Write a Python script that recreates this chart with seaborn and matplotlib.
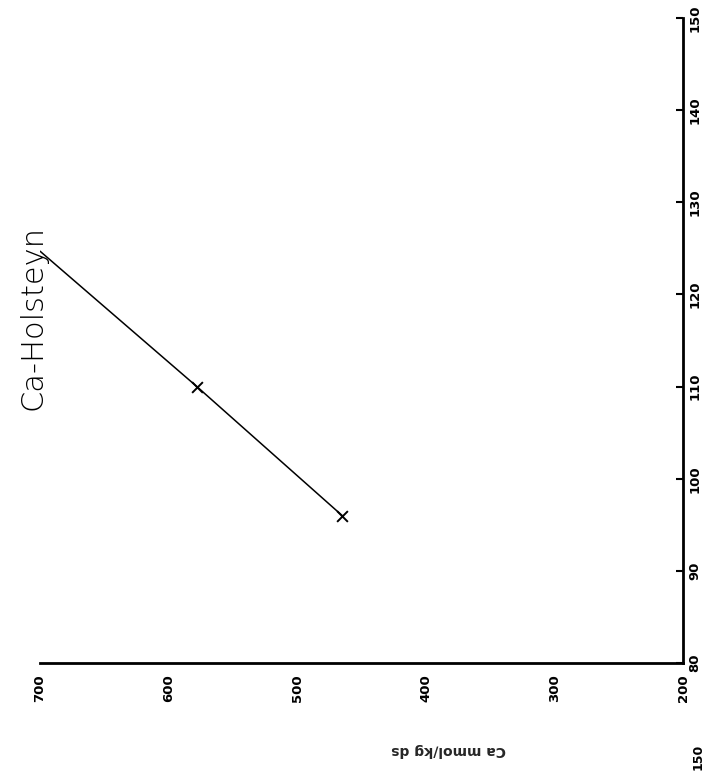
import matplotlib
matplotlib.use("Agg")
import matplotlib.pyplot as plt
import seaborn as sns
import pandas as pd

# Data (chart is shown rotated 90 degrees counter-clockwise)
ca_points = [465, 578]          # Ca mmol/kg ds
x_points = [96, 110]            # horizontal (original) axis values
ca_line = [465, 578, 700]
x_line = [96, 110, 124.7]
title = "Ca-Holsteyn"
ylabel_text = "Ca mmol/kg ds"
ca_ticks = [700, 600, 500, 400, 300, 200]
x_ticks = [80, 90, 100, 110, 120, 130, 140, 150]

sns.set_theme(style="white")
plt.rcParams['font.family'] = ['DejaVu Sans']

fig = plt.figure(figsize=(7.07, 7.71), dpi=100)
ax = fig.add_axes([0.0566, 0.140, 0.9095, 0.8366])

df_line = pd.DataFrame({"ca": ca_line, "x": x_line})
df_pts = pd.DataFrame({"ca": ca_points, "x": x_points})
sns.lineplot(data=df_line, x="ca", y="x", sort=False, estimator=None,
             color="black", linewidth=1.1, ax=ax)
sns.scatterplot(data=df_pts, x="ca", y="x", marker="x", color="black",
                s=60, linewidth=1.4, ax=ax)

ax.set_xlim(700, 200)
ax.set_ylim(80, 150)
ax.set_xticks(ca_ticks)
ax.set_yticks(x_ticks)
ax.yaxis.tick_right()
for s in ["top", "left"]:
    ax.spines[s].set_visible(False)
for s in ["bottom", "right"]:
    ax.spines[s].set_color("black")
    ax.spines[s].set_linewidth(2.0)
ax.tick_params(axis="both", direction="in", length=5, width=1.5,
               colors="black", labelsize=9.5)
ax.tick_params(axis="x", pad=8)
ax.tick_params(axis="y", pad=4)
for lab in ax.get_xticklabels():
    lab.set_rotation(90)
    lab.set_fontweight("bold")
    lab.set_va("top")
for lab in ax.get_yticklabels():
    lab.set_rotation(90)
    lab.set_fontweight("bold")
    lab.set_va("center")

ax.set_ylabel("")
ax.set_xlabel(ylabel_text, rotation=180, fontsize=10, fontweight="bold")
ax.xaxis.set_label_coords(0.636, -0.124)

fig.text(33 / 707, 1 - 318 / 771, title, rotation=90, fontsize=22,
         fontweight="light", ha="center", va="center", color="black")
fig.text(698 / 707, 1 - 757 / 771, "150", rotation=90, fontsize=9,
         fontweight="bold", ha="center", va="center", color="black")

fig.savefig("out.png", dpi=100)
